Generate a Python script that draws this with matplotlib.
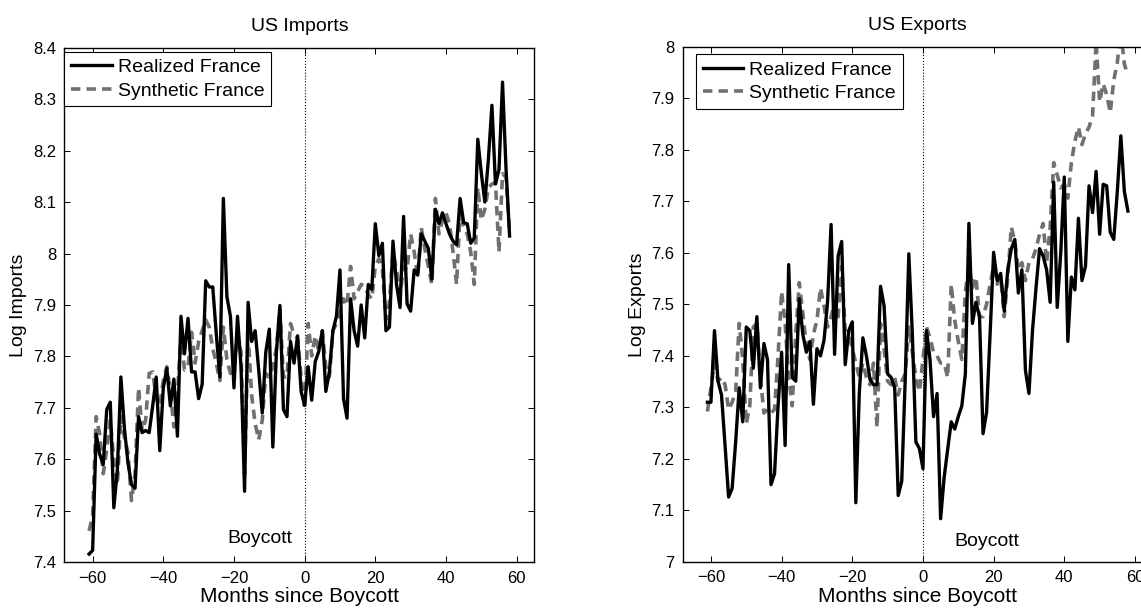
import matplotlib
matplotlib.use("Agg")
import matplotlib.pyplot as plt
import numpy as np
from matplotlib.ticker import FuncFormatter

plt.rcParams["font.family"] = ["Liberation Sans", "DejaVu Sans"]

# months since boycott (first point sits one month before -60)
months = list(range(-61, 59))

imports_realized = [
    7.416, 7.423, 7.649, 7.610, 7.590, 7.697, 7.711, 7.506, 7.579, 7.760,
    7.660, 7.593, 7.551, 7.544, 7.683, 7.652, 7.656, 7.652, 7.704, 7.760,
    7.617, 7.739, 7.777, 7.704, 7.756, 7.645, 7.878, 7.805, 7.874, 7.770,
    7.770, 7.718, 7.746, 7.947, 7.935, 7.935, 7.843, 7.760, 8.107, 7.916,
    7.878, 7.739, 7.878, 7.780, 7.538, 7.905, 7.829, 7.850, 7.774, 7.690,
    7.808, 7.853, 7.624, 7.808, 7.899, 7.697, 7.683, 7.829, 7.787, 7.840,
    7.732, 7.705, 7.780, 7.715, 7.790, 7.810, 7.850, 7.732, 7.770, 7.850,
    7.878, 7.968, 7.718, 7.680, 7.912, 7.850, 7.820, 7.900, 7.836, 7.940,
    7.930, 8.058, 7.996, 8.020, 7.850, 7.857, 8.024, 7.940, 7.895, 8.072,
    7.902, 7.888, 7.968, 7.958, 8.038, 8.024, 8.010, 7.950, 8.086, 8.058,
    8.079, 8.058, 8.038, 8.024, 8.017, 8.107, 8.060, 8.058, 8.020, 8.030,
    8.222, 8.156, 8.100, 8.183, 8.288, 8.135, 8.163, 8.333, 8.163, 8.034,
]

imports_synthetic = [
    7.461, 7.490, 7.683, 7.649, 7.572, 7.620, 7.676, 7.600, 7.551, 7.683,
    7.642, 7.614, 7.520, 7.572, 7.739, 7.656, 7.676, 7.767, 7.770, 7.718,
    7.704, 7.753, 7.780, 7.732, 7.663, 7.725, 7.843, 7.774, 7.780, 7.847,
    7.787, 7.829, 7.850, 7.871, 7.857, 7.815, 7.787, 7.753, 7.857, 7.794,
    7.767, 7.774, 7.843, 7.808, 7.572, 7.843, 7.725, 7.669, 7.638, 7.676,
    7.767, 7.760, 7.780, 7.815, 7.892, 7.760, 7.760, 7.864, 7.843, 7.836,
    7.760, 7.697, 7.864, 7.801, 7.840, 7.810, 7.850, 7.780, 7.760, 7.850,
    7.864, 7.885, 7.912, 7.899, 7.975, 7.912, 7.926, 7.940, 7.936, 7.920,
    7.912, 7.975, 7.990, 7.968, 7.871, 7.906, 8.003, 7.968, 7.920, 7.975,
    7.968, 8.038, 8.003, 7.955, 8.051, 8.010, 7.975, 7.940, 8.107, 8.038,
    8.065, 8.079, 8.058, 8.003, 7.940, 8.086, 8.051, 8.038, 8.003, 7.940,
    8.128, 8.065, 8.086, 8.128, 8.135, 8.138, 8.003, 8.155, 8.148, 8.038,
]

exports_realized = [
    7.310, 7.310, 7.449, 7.351, 7.324, 7.226, 7.126, 7.143, 7.233, 7.338,
    7.272, 7.456, 7.449, 7.376, 7.476, 7.338, 7.424, 7.393, 7.150, 7.171,
    7.303, 7.407, 7.226, 7.577, 7.358, 7.351, 7.511, 7.442, 7.407, 7.428,
    7.306, 7.414, 7.400, 7.430, 7.504, 7.655, 7.403, 7.594, 7.622, 7.383,
    7.449, 7.466, 7.115, 7.330, 7.435, 7.400, 7.355, 7.344, 7.344, 7.535,
    7.497, 7.365, 7.358, 7.338, 7.129, 7.157, 7.358, 7.598, 7.442, 7.233,
    7.220, 7.181, 7.449, 7.393, 7.282, 7.327, 7.084, 7.164, 7.219, 7.272,
    7.258, 7.282, 7.303, 7.365, 7.657, 7.463, 7.504, 7.476, 7.249, 7.290,
    7.442, 7.601, 7.546, 7.560, 7.487, 7.567, 7.608, 7.626, 7.522, 7.567,
    7.372, 7.327, 7.449, 7.532, 7.608, 7.594, 7.567, 7.504, 7.737, 7.494,
    7.601, 7.747, 7.428, 7.553, 7.528, 7.667, 7.546, 7.574, 7.730, 7.678,
    7.758, 7.636, 7.733, 7.730, 7.640, 7.626, 7.719, 7.827, 7.719, 7.681,
]

exports_synthetic = [
    7.292, 7.338, 7.386, 7.351, 7.358, 7.344, 7.296, 7.310, 7.331, 7.463,
    7.393, 7.268, 7.303, 7.456, 7.463, 7.358, 7.289, 7.296, 7.289, 7.296,
    7.400, 7.525, 7.463, 7.358, 7.303, 7.442, 7.542, 7.483, 7.420, 7.393,
    7.442, 7.469, 7.532, 7.497, 7.456, 7.476, 7.504, 7.476, 7.574, 7.449,
    7.442, 7.414, 7.386, 7.358, 7.386, 7.358, 7.344, 7.386, 7.261, 7.463,
    7.414, 7.351, 7.344, 7.358, 7.324, 7.351, 7.365, 7.456, 7.407, 7.358,
    7.331, 7.393, 7.456, 7.435, 7.407, 7.400, 7.386, 7.386, 7.358, 7.539,
    7.469, 7.428, 7.393, 7.525, 7.574, 7.532, 7.553, 7.476, 7.476, 7.500,
    7.539, 7.574, 7.539, 7.553, 7.476, 7.553, 7.650, 7.622, 7.567, 7.581,
    7.546, 7.581, 7.588, 7.608, 7.636, 7.657, 7.581, 7.650, 7.775, 7.751,
    7.726, 7.733, 7.706, 7.775, 7.817, 7.844, 7.810, 7.831, 7.844, 7.865,
    8.010, 7.893, 7.928, 7.907, 7.872, 7.935, 7.969, 8.030, 7.966, 7.945,
]

x_ticks = [-60, -40, -20, 0, 20, 40, 60]
import_ticks = [7.4, 7.5, 7.6, 7.7, 7.8, 7.9, 8.0, 8.1, 8.2, 8.3, 8.4]
export_ticks = [7.0, 7.1, 7.2, 7.3, 7.4, 7.5, 7.6, 7.7, 7.8, 7.9, 8.0]

GRAY = "#707070"


def draw_panel(ax, realized, synthetic, title, ylabel, yticks,
               legend_anchor, boycott_xy, boycott_ha):

    ax.plot(months, realized, color="black", linewidth=2.4,
            label="Realized France", zorder=3)

    ax.plot(months, synthetic, color=GRAY, linewidth=2.6,
            linestyle=(0, (2.6, 1.7)), label="Synthetic France", zorder=2)

    ax.axvline(0, color="black", linestyle=":", linewidth=0.8, zorder=1)

    ax.text(boycott_xy[0], boycott_xy[1], "Boycott", ha=boycott_ha,
            va="center", fontsize=14)

    ax.set_xlim(-68, 65)
    ax.set_ylim(yticks[0], yticks[-1])
    ax.set_xticks(x_ticks)
    ax.set_yticks(yticks)
    ax.yaxis.set_major_formatter(FuncFormatter(lambda v, p: "%g" % round(v, 2)))

    ax.tick_params(direction="in", top=True, right=True, length=4,
                   width=0.7, labelsize=12, pad=6)
    for spine in ax.spines.values():
        spine.set_linewidth(1.0)

    ax.set_title(title, fontsize=14, pad=12)
    ax.set_xlabel("Months since Boycott", fontsize=15, labelpad=1)
    ax.set_ylabel(ylabel, fontsize=14, labelpad=4)

    leg = ax.legend(loc="upper left", bbox_to_anchor=legend_anchor,
                    borderaxespad=0, fontsize=14, handlelength=2.1,
                    handletextpad=0.3, labelspacing=0.3,
                    borderpad=0.35, fancybox=False, framealpha=1)
    leg.get_frame().set_edgecolor("black")
    leg.get_frame().set_linewidth(0.8)


fig = plt.figure(figsize=(11.41, 6.08), dpi=100)

ax_imp = fig.add_axes([0.0564, 0.0752, 0.4119, 0.8464])
ax_exp = fig.add_axes([0.5983, 0.0757, 0.4119, 0.8475])

draw_panel(ax_imp, imports_realized, imports_synthetic, "US Imports",
           "Log Imports", import_ticks, (0.0, 0.992), (-3.5, 7.447), "right")

draw_panel(ax_exp, exports_realized, exports_synthetic, "US Exports",
           "Log Exports", export_ticks, (0.028, 0.985), (9.0, 7.04), "left")

fig.savefig("out.png", dpi=100)
